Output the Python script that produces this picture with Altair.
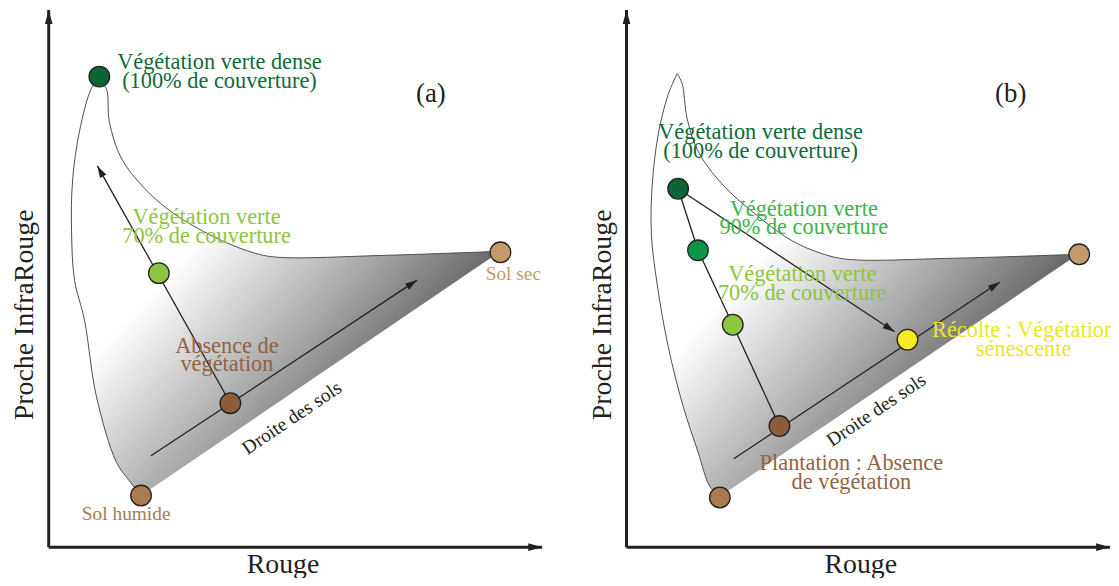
import math
import altair as alt
import pandas as pd

# ------------------------------------------------------------------
# Data (Rouge = red reflectance, Proche InfraRouge = NIR), local units
# measured from each panel's axis origin
# ------------------------------------------------------------------
PANEL_SHIFT = {"a": 0, "b": 582}

# key points
pt_panel = ["a", "a", "a", "a", "a", "b", "b", "b", "b", "b", "b", "b"]
pt_kind = ["dense", "v70", "bare", "wet", "dry",
           "dense", "v90", "v70", "bare", "senescent", "wet", "dry"]
pt_red = [51, 111, 183, 93, 455, 52, 72, 107, 154, 283, 94, 456]
pt_nir = [473, 275, 144, 51, 296, 360, 298, 223, 121, 208, 49, 294]

# outline of the soil/vegetation domain
outline_a_red = [93, 81, 68, 48, 36, 26, 23, 24, 31, 43, 50, 50,
                 58, 61, 73, 96, 126, 174, 208, 231, 341, 455]
outline_a_nir = [51, 66, 85, 151, 228, 268, 318, 368, 418, 461, 470, 470,
                 461, 428, 391, 361, 335, 308, 295, 291, 293, 297]
outline_b_red = [94, 84, 72, 57, 42, 31, 25, 26, 32, 42, 51, 51,
                 56, 61, 72, 96, 129, 166, 196, 222, 329, 455]
outline_b_nir = [50, 60, 95, 141, 201, 263, 315, 365, 415, 455, 476, 476,
                 466, 431, 398, 365, 335, 308, 295, 289, 290, 294]

# segments (start -> end), head = arrowhead at the end
seg_panel = ["a", "a", "b", "b", "b", "b", "b"]
seg_red0 = [183, 103, 52, 108, 52, 72, 107]
seg_nir0 = [144, 91, 360, 88, 360, 298, 223]
seg_red1 = [49, 371, 270, 376, 72, 107, 154]
seg_nir1 = [383, 268, 216, 266, 298, 223, 121]
seg_head = [True, True, True, True, False, False, False]

# axes (origin -> arrow tip)
axis_panel = ["a", "a", "b", "b"]
axis_red1 = [0, 497, 0, 487]
axis_nir1 = [540, -1, 540, -1]

# labels (position = first line)
label_panel = ["a"] * 9 + ["b"] * 9
label_kind = ["dense", "v70", "bare", "wet", "dry", "soil", "panel", "title", "title",
              "dense", "v90", "v70", "senescent", "bare", "soil", "panel",
              "title", "title"]
label_text = [
    "Végétation verte dense\n(100% de couverture)",
    "Végétation verte\n70% de couverture",
    "Absence de\nvégétation",
    "Sol humide",
    "Sol sec",
    "Droite des sols",
    "(a)",
    "Proche InfraRouge",
    "Rouge",
    "Végétation verte dense\n(100% de couverture)",
    "Végétation verte\n90% de couverture",
    "Végétation verte\n70% de couverture",
    "Récolte : Végétation\nsénescente",
    "Plantation : Absence\nde végétation",
    "Droite des sols",
    "(b)",
    "Proche InfraRouge",
    "Rouge",
]
label_red = [172, 159, 179.5, 78, 468, 245, 385, -24, 236,
             135, 178.5, 177, 400, 226.5, 251.5, 387, -24, 236]
label_nir = [488, 331, 202, 32, 274, 129, 455, 233, -19,
             417, 340, 274, 218, 84, 137, 455, 233, -19]
label_angle = [0, 0, 0, 0, 0, 326, 0, 270, 0,
               0, 0, 0, 0, 0, 326, 0, 270, 0]

# ------------------------------------------------------------------
# Styles
# ------------------------------------------------------------------
POINT_COLORS = {"dense": "#0b6535", "v90": "#0e9447", "v70": "#8dc63f",
                "bare": "#8b5d3b", "wet": "#a97c50", "dry": "#c49a6c",
                "senescent": "#f6eb26"}
TEXT_COLORS = {"dense": "#0e6b39", "v90": "#3ab54a", "v70": "#8dc63f",
               "bare": "#93633f", "wet": "#a87c52", "dry": "#c49a6c",
               "senescent": "#efe51f", "soil": "#231f20", "panel": "#231f20",
               "title": "#231f20"}
TEXT_SIZES = {"dense": 22.5, "v90": 22.5, "v70": 22.5, "bare": 22.5, "senescent": 22.5,
              "wet": 19.5, "dry": 19.5, "soil": 19.5, "panel": 27, "title": 28}
FONT = "Liberation Serif"
INK = "#231f20"

# ------------------------------------------------------------------
# Tables
# ------------------------------------------------------------------
pts = pd.DataFrame({"panel": pt_panel, "kind": pt_kind, "red": pt_red, "nir": pt_nir})
pts["X"] = pts["red"] + pts["panel"].map(PANEL_SHIFT)
pts["fill"] = pts["kind"].map(POINT_COLORS)

rows = []
for panel, reds, nirs in (("a", outline_a_red, outline_a_nir), ("b", outline_b_red, outline_b_nir)):
    for i, (r, n) in enumerate(zip(reds, nirs)):
        rows.append({"panel": panel, "i": i, "X": r + PANEL_SHIFT[panel], "nir": n})
outline = pd.DataFrame(rows)

segs = pd.DataFrame({"panel": seg_panel, "r0": seg_red0, "n0": seg_nir0,
                     "r1": seg_red1, "n1": seg_nir1, "head": seg_head})
segs["X0"] = segs["r0"] + segs["panel"].map(PANEL_SHIFT)
segs["X1"] = segs["r1"] + segs["panel"].map(PANEL_SHIFT)
segs["angle"] = [(math.degrees(math.atan2(r1 - r0, n1 - n0)) + 360) % 360
                 for r0, n0, r1, n1 in zip(segs.r0, segs.n0, segs.r1, segs.n1)]
heads = segs[segs["head"]]

axes = pd.DataFrame({"panel": axis_panel, "r1": axis_red1, "n1": axis_nir1})
axes["X0"] = axes["panel"].map(PANEL_SHIFT)
axes["n0"] = -1
axes["X1"] = axes["r1"] + axes["X0"]
axes["angle"] = [0 if n > 0 else 90 for n in axes["n1"]]

labels = pd.DataFrame({"panel": label_panel, "kind": label_kind, "text": label_text,
                       "red": label_red, "nir": label_nir, "angle": label_angle})
labels["X"] = labels["red"] + labels["panel"].map(PANEL_SHIFT)
labels["tcolor"] = labels["kind"].map(TEXT_COLORS)
labels["fsize"] = labels["kind"].map(TEXT_SIZES)

# ------------------------------------------------------------------
# Chart
# ------------------------------------------------------------------
xs = alt.Scale(domain=[-41, 1062], nice=False, zero=False)
ys = alt.Scale(domain=[-30, 540], nice=False, zero=False)

grad = alt.LinearGradient(
    gradient="linear",
    stops=[alt.GradientStop(color="#ffffff", offset=0),
           alt.GradientStop(color="#ffffff", offset=0.24),
           alt.GradientStop(color="#a8a8a9", offset=0.53),
           alt.GradientStop(color="#69696b", offset=0.72),
           alt.GradientStop(color="#3c3c3e", offset=1)],
    x1=0.1, y1=0.2, x2=0.95, y2=0.95)

shape = alt.Chart(outline).mark_line(
    interpolate="catmull-rom", fill=grad, stroke="#4d4d4d", strokeWidth=1
).encode(
    x=alt.X("X:Q", scale=xs, axis=None),
    y=alt.Y("nir:Q", scale=ys, axis=None),
    order="i:Q",
    detail="panel:N",
)

axis_lines = alt.Chart(axes).mark_rule(color=INK, strokeWidth=3).encode(
    x=alt.X("X0:Q", scale=xs, axis=None), y=alt.Y("n0:Q", scale=ys, axis=None),
    x2="X1:Q", y2="n1:Q")

axis_heads = alt.Chart(axes).mark_point(
    shape="M0,0L0.55,2L-0.55,2Z", filled=True, color=INK, opacity=1, size=196
).encode(x=alt.X("X1:Q", scale=xs, axis=None), y=alt.Y("n1:Q", scale=ys, axis=None),
         angle=alt.Angle("angle:Q", scale=None))

seg_lines = alt.Chart(segs).mark_rule(color=INK, strokeWidth=1.3).encode(
    x=alt.X("X0:Q", scale=xs, axis=None), y=alt.Y("n0:Q", scale=ys, axis=None),
    x2="X1:Q", y2="n1:Q")

seg_heads = alt.Chart(heads).mark_point(
    shape="M0,0L0.6,2L-0.6,2Z", filled=True, color=INK, opacity=1, size=144
).encode(x=alt.X("X1:Q", scale=xs, axis=None), y=alt.Y("n1:Q", scale=ys, axis=None),
         angle=alt.Angle("angle:Q", scale=None))

points = alt.Chart(pts).mark_point(
    shape="circle", filled=True, size=430, stroke=INK, strokeWidth=1.3, opacity=1
).encode(x=alt.X("X:Q", scale=xs, axis=None), y=alt.Y("nir:Q", scale=ys, axis=None),
         fill=alt.Fill("fill:N", scale=None))

texts = alt.Chart(labels).mark_text(
    font=FONT, lineBreak="\n", lineHeight=19, baseline="middle", align="center"
).encode(x=alt.X("X:Q", scale=xs, axis=None), y=alt.Y("nir:Q", scale=ys, axis=None),
         text="text:N", color=alt.Color("tcolor:N", scale=None),
         size=alt.Size("fsize:Q", scale=None), angle=alt.Angle("angle:Q", scale=None))

chart = alt.layer(shape, axis_lines, axis_heads, seg_lines, seg_heads, points, texts).properties(
    width=1103, height=570,
    autosize=alt.AutoSizeParams(type="none"),
    padding={"left": 0, "top": 0, "right": 8, "bottom": 0},
).configure_view(stroke=None)

chart.save("out.html", embed_options={"renderer": "svg", "actions": False})
